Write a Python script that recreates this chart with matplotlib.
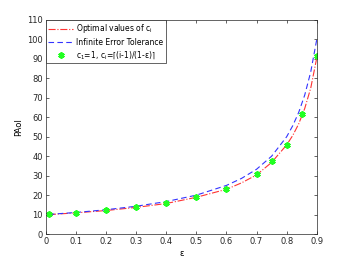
import numpy as np
import matplotlib.pyplot as plt

# values
eps_line = [0.01, 0.1, 0.2, 0.3, 0.4, 0.5, 0.6, 0.65, 0.7, 0.75, 0.8, 0.82, 0.84, 0.86, 0.88, 0.9]
optimal = [10.0, 10.9, 12.1, 13.7, 15.7, 18.9, 23.0, 26.3, 30.4, 36.8, 45.8, 50.6, 56.6, 64.5, 75.0, 90.5]
infinite = [10.1, 11.1, 12.5, 14.3, 16.7, 20.0, 25.0, 28.6, 33.3, 40.0, 50.0, 55.6, 62.5, 71.4, 83.3, 100.0]

eps_pts = [0.01, 0.1, 0.2, 0.3, 0.4, 0.5, 0.6, 0.7, 0.75, 0.8, 0.85, 0.9]
ceil_pts = [10.1, 11.0, 12.2, 13.9, 15.9, 19.2, 23.3, 30.8, 37.4, 45.9, 61.9, 91.7]

fig = plt.figure(figsize=(3.5, 2.63), dpi=100)
ax = fig.add_axes([0.131, 0.110, 0.774, 0.814])

ax.plot(eps_line, optimal, color="#ff3333", linestyle="-.", linewidth=0.8,
        label=r"Optimal values of c$_\mathregular{i}$")
ax.plot(eps_line, infinite, color="#3333ff", linestyle=(0, (5, 3)), linewidth=0.8,
        label="Infinite Error Tolerance")
ax.plot(eps_pts, ceil_pts, linestyle="none", marker=(6, 2, 0), markersize=4.5,
        markeredgewidth=1.4, color="#22ff22",
        label=r"c$_\mathregular{1}$=1, c$_\mathregular{i}$=⌈(i-1)/(1-ε)⌉")

ax.set_xlim(0, 0.9)
ax.set_ylim(0, 110)
ax.set_xticks(np.arange(0, 0.91, 0.1))
ax.set_xticklabels(["0", "0.1", "0.2", "0.3", "0.4", "0.5", "0.6", "0.7", "0.8", "0.9"])
ax.set_yticks(range(0, 111, 10))
ax.tick_params(direction="in", top=True, right=True, labelsize=6, length=2.5,
               width=0.5, colors="#262626", pad=2)
for s in ax.spines.values():
    s.set_linewidth(0.5)
    s.set_color("#262626")

ax.set_xlabel("ε", fontsize=6, labelpad=2)
ax.set_ylabel("PAoI", fontsize=6, labelpad=3)

leg = ax.legend(loc="upper left", fontsize=5.5, handlelength=3.3, borderaxespad=0,
                fancybox=False, framealpha=1, borderpad=0.3, labelspacing=0.3,
                handletextpad=0.4)
leg.get_frame().set_edgecolor("#262626")
leg.get_frame().set_linewidth(0.5)

plt.savefig("out.png", dpi=100)
